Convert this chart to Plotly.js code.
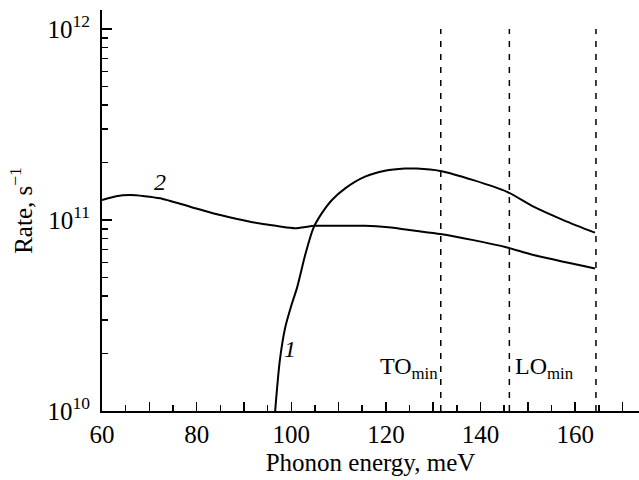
<!DOCTYPE html>
<html>
<head>
<meta charset="utf-8">
<script src="https://cdn.plot.ly/plotly-3.0.1.min.js"></script>
<style>html,body{margin:0;padding:0;background:#fff;} #chart{width:639px;height:480px;}</style>
</head>
<body>
<div id="chart"></div>
<script>
// Curve 1
const x1 = [96.6, 97.6, 98.7, 100.1, 101.2, 101.9, 102.9, 104.7, 106.4, 108.6, 111.4, 115.6, 119.8, 124.0, 126.5, 131.5, 138.5, 145.6, 151.2, 157.5, 164.2];
const y1 = [1.0e10, 1.85e10, 2.72e10, 3.62e10, 4.4e10, 5.15e10, 6.5e10, 9.1e10, 1.08e11, 1.274e11, 1.466e11, 1.687e11, 1.811e11, 1.86e11, 1.86e11, 1.807e11, 1.618e11, 1.406e11, 1.175e11, 1.0e11, 8.59e10];
// Curve 2
const x2 = [60, 63, 65.9, 69, 72.3, 78.6, 85, 91.3, 94.5, 97.6, 100.8, 105, 111.7, 115.6, 120.5, 126.2, 131.5, 138.5, 145.6, 151.2, 164.2];
const y2 = [1.274e11, 1.334e11, 1.352e11, 1.334e11, 1.30e11, 1.175e11, 1.062e11, 9.79e10, 9.5e10, 9.25e10, 9.06e10, 9.33e10, 9.33e10, 9.33e10, 9.16e10, 8.79e10, 8.45e10, 7.85e10, 7.19e10, 6.56e10, 5.58e10];
// Vertical reference energies (meV)
const vlines = [131.6, 146.1, 164.4];
const vlineY = [1e10, 1e12];
// Axis ticks
const xTickVals = [60, 70, 80, 90, 100, 110, 120, 130, 140, 150, 160, 170];
const xTickText = ['60', '', '80', '', '100', '', '120', '', '140', '', '160', ''];
const yTickVals = [1e10, 1e11, 1e12];
const yTickText = ['10<sup>10</sup>', '10<sup>11</sup>', '10<sup>12</sup>'];
const yMinorVals = [];
[1e10, 1e11].forEach(d => { for (let k = 2; k <= 9; k++) yMinorVals.push(k * d); });
// Labels
const curveLabels = [
  {x: 99.7, y: 2.1e10, text: '<i>1</i>'},
  {x: 72.3, y: 1.58e11, text: '<i>2</i>'}
];
const phononLabels = [
  {x: 131.6, y: 1.68e10, text: 'TO<sub>min</sub>', anchor: 'right'},
  {x: 146.1, y: 1.68e10, text: 'LO<sub>min</sub>', anchor: 'left'}
];

const traces = [
  {x: x1, y: y1, mode: 'lines', line: {color: '#000', width: 2, shape: 'spline', smoothing: 0.8}, cliponaxis: false, hoverinfo: 'skip'},
  {x: x2, y: y2, mode: 'lines', line: {color: '#000', width: 2, shape: 'spline', smoothing: 0.6}, hoverinfo: 'skip'}
];
vlines.forEach(v => traces.push({x: [v, v], y: vlineY, mode: 'lines', line: {color: '#000', width: 1.5, dash: '6px,7px'}, hoverinfo: 'skip'}));

const annotations = [];
curveLabels.forEach(a => annotations.push({x: a.x, y: Math.log10(a.y), xref: 'x', yref: 'y', text: a.text, showarrow: false, font: {size: 24}}));
phononLabels.forEach(a => annotations.push({x: a.x, y: Math.log10(a.y), xref: 'x', yref: 'y', text: a.text, showarrow: false, xanchor: a.anchor, xshift: a.anchor === 'right' ? -1 : 4, font: {size: 24}}));

const layout = {
  width: 639, height: 480,
  margin: {l: 102, r: 0, t: 10, b: 69},
  paper_bgcolor: '#fff', plot_bgcolor: '#fff',
  font: {family: 'Liberation Serif, Times New Roman, serif', size: 25, color: '#000'},
  showlegend: false,
  xaxis: {
    range: [60, 173.5], showgrid: false, zeroline: false,
    showline: true, linecolor: '#000', linewidth: 2,
    tickmode: 'array', tickvals: xTickVals, ticktext: xTickText,
    ticks: 'inside', ticklen: 9, tickwidth: 1.5, tickcolor: '#000',
    minor: {tickmode: 'linear', tick0: 60, dtick: 5, ticks: 'inside', ticklen: 6, tickwidth: 1.5, tickcolor: '#000'},
    title: {text: 'Phonon energy, meV', font: {size: 25}, standoff: 6}
  },
  yaxis: {
    type: 'log', range: [10, 12.1], showgrid: false, zeroline: false,
    showline: true, linecolor: '#000', linewidth: 2,
    tickmode: 'array', tickvals: yTickVals, ticktext: yTickText,
    ticks: 'inside', ticklen: 10, tickwidth: 1.5, tickcolor: '#000',
    ticklabelstandoff: 5,
    minor: {tickmode: 'array', tickvals: yMinorVals, ticks: 'inside', ticklen: 6, tickwidth: 1.5, tickcolor: '#000'},
    title: {text: 'Rate, s<sup>−1</sup>', font: {size: 25}, standoff: 8}
  },
  annotations: annotations
};

Plotly.newPlot('chart', traces, layout, {staticPlot: true, displayModeBar: false});
</script>
</body>
</html>
